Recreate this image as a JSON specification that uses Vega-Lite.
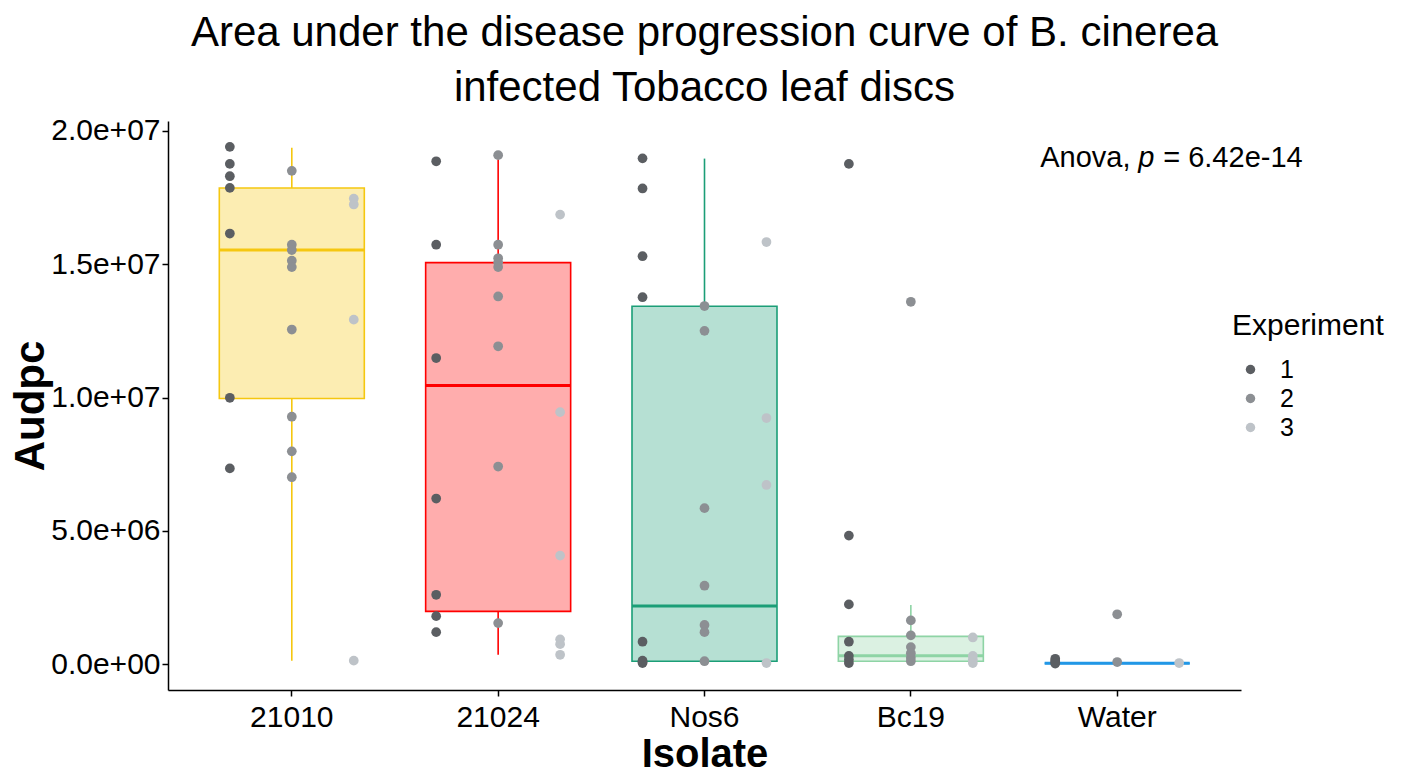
{
  "$schema": "https://vega.github.io/schema/vega-lite/v6.json",
  "autosize": {"type": "none"},
  "padding": {"left": 168, "top": 121, "right": 165, "bottom": 86},
  "width": 1073,
  "height": 569,
  "background": "white",
  "title": {
    "text": ["Area under the disease progression curve of B. cinerea", "infected Tobacco leaf discs"],
    "font": "Liberation Sans",
    "fontSize": 42,
    "fontWeight": "normal",
    "color": "black",
    "anchor": "middle",
    "offset": 6,
    "lineHeight": 55
  },
  "datasets": {
    "points": [
      {"Isolate": "21010", "Experiment": "1", "v": 19400000},
      {"Isolate": "21010", "Experiment": "1", "v": 18760000},
      {"Isolate": "21010", "Experiment": "1", "v": 18300000},
      {"Isolate": "21010", "Experiment": "1", "v": 17860000},
      {"Isolate": "21010", "Experiment": "1", "v": 16150000},
      {"Isolate": "21010", "Experiment": "1", "v": 9990000},
      {"Isolate": "21010", "Experiment": "1", "v": 7340000},
      {"Isolate": "21010", "Experiment": "2", "v": 18500000},
      {"Isolate": "21010", "Experiment": "2", "v": 15730000},
      {"Isolate": "21010", "Experiment": "2", "v": 15530000},
      {"Isolate": "21010", "Experiment": "2", "v": 15130000},
      {"Isolate": "21010", "Experiment": "2", "v": 14890000},
      {"Isolate": "21010", "Experiment": "2", "v": 12550000},
      {"Isolate": "21010", "Experiment": "2", "v": 9280000},
      {"Isolate": "21010", "Experiment": "2", "v": 7980000},
      {"Isolate": "21010", "Experiment": "2", "v": 7010000},
      {"Isolate": "21010", "Experiment": "3", "v": 17460000},
      {"Isolate": "21010", "Experiment": "3", "v": 17240000},
      {"Isolate": "21010", "Experiment": "3", "v": 12920000},
      {"Isolate": "21010", "Experiment": "3", "v": 130000},
      {"Isolate": "21024", "Experiment": "1", "v": 18860000},
      {"Isolate": "21024", "Experiment": "1", "v": 15730000},
      {"Isolate": "21024", "Experiment": "1", "v": 11480000},
      {"Isolate": "21024", "Experiment": "1", "v": 6210000},
      {"Isolate": "21024", "Experiment": "1", "v": 2600000},
      {"Isolate": "21024", "Experiment": "1", "v": 1800000},
      {"Isolate": "21024", "Experiment": "1", "v": 1200000},
      {"Isolate": "21024", "Experiment": "2", "v": 19090000},
      {"Isolate": "21024", "Experiment": "2", "v": 15730000},
      {"Isolate": "21024", "Experiment": "2", "v": 15220000},
      {"Isolate": "21024", "Experiment": "2", "v": 15060000},
      {"Isolate": "21024", "Experiment": "2", "v": 14890000},
      {"Isolate": "21024", "Experiment": "2", "v": 13790000},
      {"Isolate": "21024", "Experiment": "2", "v": 11920000},
      {"Isolate": "21024", "Experiment": "2", "v": 7410000},
      {"Isolate": "21024", "Experiment": "2", "v": 1540000},
      {"Isolate": "21024", "Experiment": "3", "v": 16860000},
      {"Isolate": "21024", "Experiment": "3", "v": 9450000},
      {"Isolate": "21024", "Experiment": "3", "v": 4070000},
      {"Isolate": "21024", "Experiment": "3", "v": 930000},
      {"Isolate": "21024", "Experiment": "3", "v": 750000},
      {"Isolate": "21024", "Experiment": "3", "v": 350000},
      {"Isolate": "Nos6", "Experiment": "1", "v": 18970000},
      {"Isolate": "Nos6", "Experiment": "1", "v": 17840000},
      {"Isolate": "Nos6", "Experiment": "1", "v": 15300000},
      {"Isolate": "Nos6", "Experiment": "1", "v": 13760000},
      {"Isolate": "Nos6", "Experiment": "1", "v": 840000},
      {"Isolate": "Nos6", "Experiment": "1", "v": 130000},
      {"Isolate": "Nos6", "Experiment": "1", "v": 80000},
      {"Isolate": "Nos6", "Experiment": "1", "v": 40000},
      {"Isolate": "Nos6", "Experiment": "2", "v": 13430000},
      {"Isolate": "Nos6", "Experiment": "2", "v": 12500000},
      {"Isolate": "Nos6", "Experiment": "2", "v": 5850000},
      {"Isolate": "Nos6", "Experiment": "2", "v": 2940000},
      {"Isolate": "Nos6", "Experiment": "2", "v": 1470000},
      {"Isolate": "Nos6", "Experiment": "2", "v": 1200000},
      {"Isolate": "Nos6", "Experiment": "2", "v": 110000},
      {"Isolate": "Nos6", "Experiment": "3", "v": 15830000},
      {"Isolate": "Nos6", "Experiment": "3", "v": 9230000},
      {"Isolate": "Nos6", "Experiment": "3", "v": 6720000},
      {"Isolate": "Nos6", "Experiment": "3", "v": 40000},
      {"Isolate": "Bc19", "Experiment": "1", "v": 18760000},
      {"Isolate": "Bc19", "Experiment": "1", "v": 4820000},
      {"Isolate": "Bc19", "Experiment": "1", "v": 2240000},
      {"Isolate": "Bc19", "Experiment": "1", "v": 840000},
      {"Isolate": "Bc19", "Experiment": "1", "v": 310000},
      {"Isolate": "Bc19", "Experiment": "1", "v": 170000},
      {"Isolate": "Bc19", "Experiment": "1", "v": 40000},
      {"Isolate": "Bc19", "Experiment": "2", "v": 13590000},
      {"Isolate": "Bc19", "Experiment": "2", "v": 1640000},
      {"Isolate": "Bc19", "Experiment": "2", "v": 1080000},
      {"Isolate": "Bc19", "Experiment": "2", "v": 640000},
      {"Isolate": "Bc19", "Experiment": "2", "v": 410000},
      {"Isolate": "Bc19", "Experiment": "2", "v": 240000},
      {"Isolate": "Bc19", "Experiment": "2", "v": 110000},
      {"Isolate": "Bc19", "Experiment": "3", "v": 1000000},
      {"Isolate": "Bc19", "Experiment": "3", "v": 310000},
      {"Isolate": "Bc19", "Experiment": "3", "v": 170000},
      {"Isolate": "Bc19", "Experiment": "3", "v": 40000},
      {"Isolate": "Water", "Experiment": "1", "v": 200000},
      {"Isolate": "Water", "Experiment": "1", "v": 120000},
      {"Isolate": "Water", "Experiment": "1", "v": 60000},
      {"Isolate": "Water", "Experiment": "1", "v": 20000},
      {"Isolate": "Water", "Experiment": "2", "v": 1870000},
      {"Isolate": "Water", "Experiment": "2", "v": 80000},
      {"Isolate": "Water", "Experiment": "3", "v": 40000}
    ],
    "boxes": [
      {"Isolate": "21010", "lo": 130000, "q1": 9960000, "med": 15530000, "q3": 17860000, "hi": 19370000},
      {"Isolate": "21024", "lo": 350000, "q1": 1980000, "med": 10450000, "q3": 15060000, "hi": 18930000},
      {"Isolate": "Nos6", "lo": 110000, "q1": 110000, "med": 2180000, "q3": 13420000, "hi": 18960000},
      {"Isolate": "Bc19", "lo": 40000, "q1": 110000, "med": 310000, "q3": 1040000, "hi": 2220000},
      {"Isolate": "Water", "lo": 30000, "q1": 30000, "med": 30000, "q3": 30000, "hi": 30000}
    ],
    "anova": [
      {"Isolate": "Water", "v": 19000000}
    ]
  },
  "encoding": {
    "x": {
      "field": "Isolate",
      "type": "nominal",
      "sort": ["21010", "21024", "Nos6", "Bc19", "Water"],
      "scale": {"domain": ["21010", "21024", "Nos6", "Bc19", "Water"], "paddingInner": 0, "paddingOuter": 0.1},
      "axis": {"title": "Isolate", "labelAngle": 0, "labelPadding": 6, "titlePadding": 2, "titleFontSize": 40}
    }
  },
  "layer": [
    {
      "data": {"name": "boxes"},
      "mark": {"type": "rule", "strokeWidth": 1.6},
      "encoding": {
        "y": {"field": "lo", "type": "quantitative"},
        "y2": {"field": "q1"},
        "stroke": {"field": "Isolate", "type": "nominal", "legend": null,
          "scale": {"domain": ["21010", "21024", "Nos6", "Bc19", "Water"], "range": ["#F5C710", "#FF0000", "#1B9E77", "#8ED4A5", "#2297E6"]}}
      }
    },
    {
      "data": {"name": "boxes"},
      "mark": {"type": "rule", "strokeWidth": 1.6},
      "encoding": {
        "y": {"field": "q3", "type": "quantitative"},
        "y2": {"field": "hi"},
        "stroke": {"field": "Isolate", "type": "nominal", "legend": null}
      }
    },
    {
      "data": {"name": "boxes"},
      "mark": {"type": "bar", "width": 145, "fillOpacity": 0.32, "strokeWidth": 1.6},
      "encoding": {
        "y": {"field": "q1", "type": "quantitative"},
        "y2": {"field": "q3"},
        "stroke": {"field": "Isolate", "type": "nominal", "legend": null},
        "fill": {"field": "Isolate", "type": "nominal", "legend": null,
          "scale": {"domain": ["21010", "21024", "Nos6", "Bc19", "Water"], "range": ["#F5C710", "#FF0000", "#1B9E77", "#8ED4A5", "#2297E6"]}}
      }
    },
    {
      "data": {"name": "boxes"},
      "mark": {"type": "tick", "size": 145, "thickness": 3, "orient": "horizontal", "opacity": 1},
      "encoding": {
        "y": {"field": "med", "type": "quantitative"},
        "fill": {"field": "Isolate", "type": "nominal", "legend": null}
      }
    },
    {
      "data": {"name": "points"},
      "mark": {"type": "circle", "size": 95, "opacity": 1},
      "encoding": {
        "xOffset": {"field": "Experiment", "type": "nominal", "scale": {"type": "point", "domain": ["1", "2", "3"], "padding": 0.665}},
        "y": {"field": "v", "type": "quantitative",
          "scale": {"domain": [-970000, 20370000], "nice": false, "zero": false},
          "axis": {"title": "Audpc", "values": [0, 5000000, 10000000, 15000000, 20000000],
            "labelExpr": "replace(format(datum.value, '.1e'), regexp('e\\\\+(\\\\d)$'), 'e+0$1')",
            "titlePadding": -2}},
        "color": {"field": "Experiment", "type": "nominal",
          "scale": {"domain": ["1", "2", "3"], "range": ["#5B5E62", "#8C8F93", "#BEC3C8"]},
          "legend": {"title": "Experiment", "orient": "none", "legendX": 1064, "legendY": 190,
            "symbolType": "circle", "symbolSize": 90, "symbolOffset": 6, "rowPadding": 3, "labelOffset": 17, "titlePadding": 16}}
      }
    },
    {
      "data": {"name": "anova"},
      "mark": {"type": "text", "text": "Anova,", "align": "left", "baseline": "middle", "dx": -77, "font": "Liberation Sans", "fontSize": 29, "color": "black"},
      "encoding": {"y": {"field": "v", "type": "quantitative"}}
    },
    {
      "data": {"name": "anova"},
      "mark": {"type": "text", "text": "p", "align": "left", "baseline": "middle", "dx": 21, "font": "Liberation Sans", "fontStyle": "italic", "fontSize": 29, "color": "black"},
      "encoding": {"y": {"field": "v", "type": "quantitative"}}
    },
    {
      "data": {"name": "anova"},
      "mark": {"type": "text", "text": "= 6.42e-14", "align": "left", "baseline": "middle", "dx": 46, "font": "Liberation Sans", "fontSize": 29, "color": "black"},
      "encoding": {"y": {"field": "v", "type": "quantitative"}}
    }
  ],
  "config": {
    "view": {"stroke": null},
    "font": "Liberation Sans",
    "axis": {
      "grid": false,
      "domainColor": "black",
      "domainWidth": 1.5,
      "tickColor": "black",
      "tickWidth": 1.5,
      "tickSize": 6,
      "labelColor": "black",
      "labelFont": "Liberation Sans",
      "labelFontSize": 30,
      "titleFont": "Liberation Sans",
      "titleFontSize": 42,
      "titleFontWeight": "bold",
      "titleColor": "black"
    },
    "legend": {
      "titleFont": "Liberation Sans",
      "titleFontSize": 30,
      "titleFontWeight": "normal",
      "titleColor": "black",
      "labelFont": "Liberation Sans",
      "labelFontSize": 25,
      "labelColor": "black"
    }
  }
}
